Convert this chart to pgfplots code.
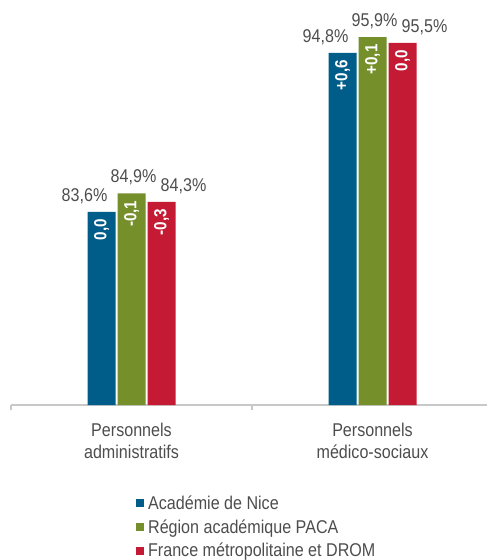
\documentclass[border=0pt]{standalone}
\usepackage{fontspec}
\setmainfont{Liberation Sans}[FakeStretch=0.87]
\usepackage{pgfplots}
\usepackage{pgfplotstable}
\pgfplotsset{compat=1.18}
\definecolor{cblue}{HTML}{005D89}
\definecolor{cgreen}{HTML}{758F2A}
\definecolor{cred}{HTML}{C41A33}
\definecolor{ctext}{HTML}{4D4D4D}
\definecolor{caxis}{HTML}{C8C8C8}

\pgfplotstableread{
x y lab d
0 83.6 83,6 0,0
1 94.8 94,8 +0,6
}\nice
\pgfplotstableread{
x y lab d
0 84.9 84,9 -0,1
1 95.9 95,9 +0,1
}\paca
\pgfplotstableread{
x y lab d
0 84.3 84,3 -0,3
1 95.5 95,5 0,0
}\france

\begin{document}
\begin{tikzpicture}
\useasboundingbox (-11pt,-155pt) rectangle (476pt,405pt);
\begin{axis}[
  at={(0pt,0pt)}, anchor=south west,
  scale only axis, width=476pt, height=383.4pt,
  xmin=-0.5, xmax=1.475, ymin=70, ymax=97,
  axis x line*=bottom, axis y line=none,
  x axis line style={caxis, line width=1.3pt, -},
  xtick={0,1},
  xticklabels={{Personnels\\administratifs},{Personnels\\médico-sociaux}},
  xticklabel style={align=center, font=\fontsize{18.5}{22}\selectfont, text=ctext, inner sep=0pt, yshift=-18pt},
  major tick length=0pt,
  extra x ticks={-0.5,0.5},
  extra x tick labels={},
  extra x tick style={major tick length=5pt, tick align=outside, tick style={caxis, line width=1.3pt}},
  ybar, bar width=28pt,
  clip=false,
  legend style={at={(0.2625,0)}, anchor=north west, yshift=-89pt, draw=none, fill=none, inner sep=0pt,
    font=\fontsize{18.5}{22}\selectfont, text=ctext, row sep=3.8pt,
    nodes={text height=14pt, text depth=4pt, inner sep=1pt}, cells={anchor=west},
    /tikz/every odd column/.append style={column sep=3pt}},
  legend image code/.code={\fill[#1] (0pt,-3pt) rectangle (8pt,5pt);},
  valstyle/.style={nodes near coords={\pgfplotspointmeta\%}, point meta=explicit symbolic,
    every node near coord/.append style={anchor=south, inner sep=0pt, yshift=8pt,
      font=\fontsize{18.5}{22}\selectfont, text=ctext}},
  deltastyle/.style={draw=none, fill=none, forget plot, nodes near coords, point meta=explicit symbolic,
    every node near coord/.append style={inner sep=0pt, yshift=-7pt, anchor=east, rotate=90,
      font=\fontsize{17.5}{20}\selectfont\bfseries, text=white}},
]
\addplot[fill=cblue, draw=none, bar shift=-30pt, valstyle,
  every node near coord/.append style={xshift=-17pt}] table[x=x,y=y,meta=lab]{\nice};
\addlegendentry{Académie de Nice}
\addplot[fill=cgreen, draw=none, bar shift=0pt, valstyle,
  every node near coord/.append style={xshift=2pt}] table[x=x,y=y,meta=lab]{\paca};
\addlegendentry{Région académique PACA}
\addplot[fill=cred, draw=none, bar shift=30pt, valstyle,
  every node near coord/.append style={xshift=22pt}] table[x=x,y=y,meta=lab]{\france};
\addlegendentry{France métropolitaine et DROM}
\addplot[bar shift=-30pt, deltastyle] table[x=x,y=y,meta=d]{\nice};
\addplot[bar shift=0pt, deltastyle] table[x=x,y=y,meta=d]{\paca};
\addplot[bar shift=30pt, deltastyle] table[x=x,y=y,meta=d]{\france};
\end{axis}
\end{tikzpicture}
\end{document}
